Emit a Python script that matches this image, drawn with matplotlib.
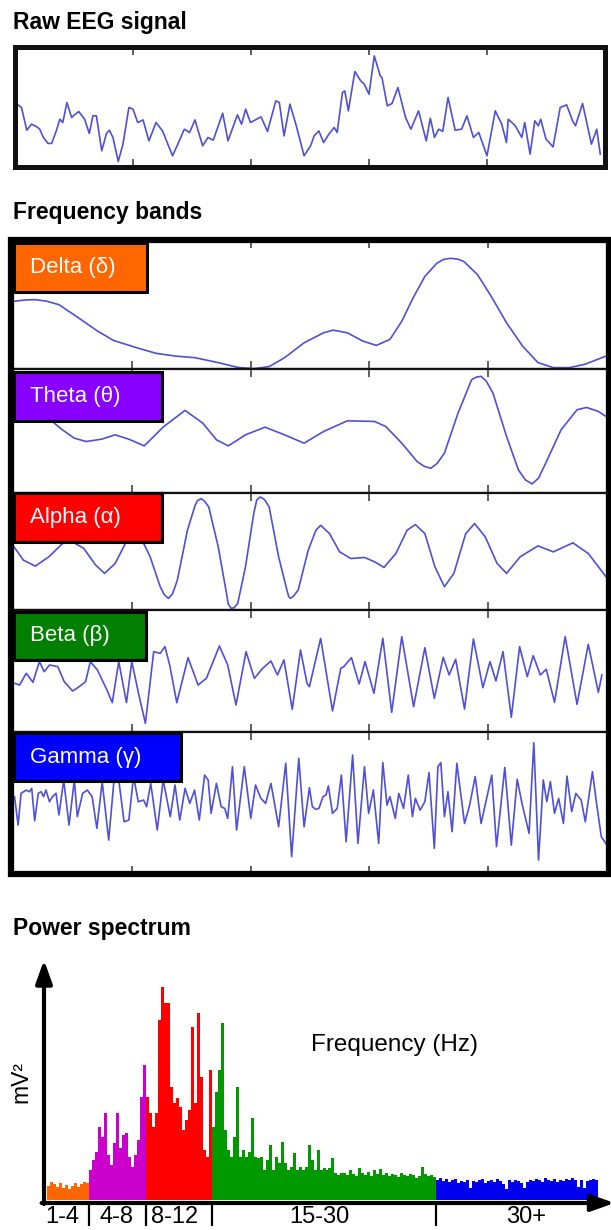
import matplotlib
matplotlib.use('Agg')
import matplotlib.pyplot as plt
from matplotlib.patches import Rectangle
import numpy as np

plt.rcParams['font.family'] = ['Liberation Sans', 'DejaVu Sans']

W, H = 611, 1230
LINE = '#4f4fd9'

# ---- raw EEG (time 0-100, amplitude 0-100) ----
raw_t = [0, 1.1, 2, 2.8, 3.7, 4.2, 4.8, 5.6, 6.2, 7, 7.6, 8.1, 8.8, 9.6, 10.1, 10.8, 11.8, 12.6,
         13.2, 13.8, 14.7, 15.5, 16, 16.6, 17.5, 18.3, 19.3, 20, 20.8, 21.7, 22.7, 23.4, 23.9, 25,
         26.7, 27.6, 28.7, 29.6, 30.5, 31.8, 32.7, 33.6, 35.2, 36.1, 37.7, 38.4, 39.1, 39.9, 41.7,
         42.8, 44.2, 44.8, 45.6, 46.6, 47.6, 49, 50.1, 50.7, 51.5, 52.3, 53.2, 54.1, 54.6, 55.5,
         55.9, 56.5, 57.6, 58.6, 59.2, 60, 60.9, 61.9, 62.2, 63.1, 63.9, 64.9, 66.2, 67.1, 68.4,
         69.7, 70.4, 71.1, 71.8, 72.5, 73.4, 74.6, 75.7, 76.6, 77.7, 78.6, 80, 81.4, 82.5, 83.3,
         83.6, 84.8, 85.9, 86.4, 87.3, 88.1, 88.7, 89.1, 90, 91.2, 92.4, 93.5, 94.5, 95, 96.2,
         97.7, 98.6, 99.2]
raw_v = [53, 48.5, 28.5, 33.8, 31.5, 29.4, 22.1, 16.8, 16.8, 27.9, 38.2, 35.3, 52.9, 39.7, 42.1,
         45, 38.2, 25.6, 41.2, 41.2, 10.3, 25.6, 28.5, 22.1, 0.9, 16.2, 48.5, 47.1, 35.3, 37.6,
         19.1, 28.5, 35.3, 27.9, 5.9, 16.2, 29.4, 26.5, 37.6, 14.7, 22.1, 19.7, 43.5, 19.1, 42.1,
         33.8, 47.1, 35.3, 40.3, 27.4, 54.4, 52.9, 23.5, 51.5, 33.8, 5.9, 14.7, 23.5, 27.9, 17.6,
         25, 30.9, 26.5, 61.8, 63.2, 45.6, 80.3, 72.1, 69.1, 60.3, 94.1, 76.5, 75, 50, 52.1, 66.2,
         39.7, 29.4, 45.6, 19.1, 39.1, 22.1, 29.4, 27.4, 57.4, 28.5, 29.4, 41.2, 22.1, 26.5, 5.9,
         45.6, 33.8, 17.6, 38.2, 32.4, 22.1, 35.3, 7.4, 36.8, 32.4, 38.2, 20.6, 13.8, 48.5, 50.9,
         36.8, 32.4, 52.1, 16.2, 29.4, 7.4]

# ---- frequency bands ----
delta_t = [0, 2, 3.6, 5.5, 7.6, 10.9, 14.1, 16.8, 20.7, 24, 27.3, 30.6, 34.5, 37.8, 40.5, 43.1,
           45.7, 49, 52.3, 53.9, 56.3, 58.9, 61.2, 63.5, 65.5, 67.4, 69.4, 71.4, 72.5, 73.7, 75,
           76, 78.3, 80.6, 83.2, 85.9, 88.5, 91.1, 93.8, 96.4, 100]
delta_v = [53.7, 54.8, 55, 53.8, 51, 40.5, 30, 22.5, 16.7, 12.2, 10, 8.7, 4.8, 1, 0, 1.6, 8.7,
           20.6, 28.6, 30.7, 28.6, 22, 18.5, 23.3, 37.8, 56.3, 73.5, 84, 87, 88, 87.3, 85.4, 74.9,
           57.7, 36.5, 18, 4.8, 0.8, 0.8, 3.4, 10]

theta_t = [0, 6.25, 8.2, 10.2, 12.2, 14.8, 17.1, 19.4, 22, 25.3, 28.9, 31.9, 34.2, 36.2, 39.1,
           42.4, 45.7, 49, 52.3, 56.3, 60.9, 62.8, 65.5, 68.1, 69.3, 70.4, 71.5, 72.7, 75, 77.3,
           78.1, 78.9, 79.8, 80.9, 83.2, 85.2, 86.4, 87.5, 88.6, 89.8, 92.4, 95.1, 96.7, 98.7, 100]
theta_v = [60.4, 58.5, 50.9, 44.2, 41.5, 43.4, 46.9, 43.4, 38, 53.6, 66.6, 56.3, 42.9, 38, 46.9,
           53.1, 46.9, 40.2, 49.6, 58.2, 57.7, 53.6, 40.2, 25.3, 21.5, 19.9, 24, 32.1, 64.4, 91.4,
           93.5, 94.1, 90, 80.6, 45.6, 18.6, 10.5, 7.3, 12, 24, 50.9, 67.1, 69, 65.8, 61.7]

alpha_t = [0, 1.6, 3.6, 5.9, 8.2, 9.9, 11.8, 13.8, 15.3, 17.1, 18.8, 20.7, 23, 24.7, 25.4, 26.1,
           26.8, 27.6, 29.3, 30.6, 31, 31.6, 32.2, 32.9, 34.5, 35.9, 36.2, 36.7, 37.2, 37.8, 39.1,
           40.5, 41, 41.6, 42.3, 43.1, 44.7, 46.1, 46.4, 46.7, 47.2, 48, 49.7, 51, 51.8, 53.3, 55,
           56.9, 59.2, 60.9, 62.5, 64.5, 66.4, 67.8, 69.4, 71.1, 72.7, 74.3, 76.3, 77.8, 79.6,
           81.6, 83.2, 85.5, 88.5, 91.1, 94.4, 97, 100]
alpha_v = [54, 42.6, 37.5, 45.5, 56.8, 58.2, 52.6, 38.4, 31.3, 39.8, 56.8, 69.6, 45.5, 19.9, 13,
           9.9, 14, 25.6, 68.2, 89.5, 93.5, 95.2, 93, 88.1, 54, 14.2, 5, 1.4, 2, 5.7, 36.9, 82.4,
           94, 96.6, 94.5, 88.1, 45.5, 17, 11.5, 9.9, 11.8, 17, 51.1, 68.2, 72.4, 65.3, 49.7, 44,
           44.9, 41.2, 36.4, 48.3, 68.2, 73, 65.3, 36.9, 19.9, 31.3, 65.3, 73.9, 62.5, 39.8, 31.3,
           45.5, 54.8, 49.7, 57.4, 48.3, 28.4]

beta_t = [0.1, 0.95, 2.07, 3.2, 4.3, 5.1, 6, 7.4, 8.5, 9.9, 11, 12.1, 12.9, 14.1, 15.7, 16.6,
          17.7, 19, 19.9, 21.1, 22.2, 23.6, 24.7, 25.5, 26.3, 27.5, 29.4, 31.1, 32.5, 34.7, 36.1,
          37.5, 39.2, 40.6, 42, 43.4, 44.5, 45.6, 47, 48.4, 49.5, 49.9, 51.8, 53.8, 55.2, 55.7,
          57, 58.3, 59.3, 60.8, 62.3, 63.8, 65.5, 67.5, 69.4, 71, 72.5, 73.5, 74.6, 76.1, 77.6,
          79.2, 80.4, 81.4, 82.6, 84, 85.4, 86.7, 87.7, 88.9, 89.9, 91.3, 93.1, 95.1, 97, 98.7,
          99.3]
beta_v = [39.7, 38.3, 48.1, 40.6, 57.8, 49.4, 55, 53.6, 41.1, 33.3, 36.9, 41.1, 57.8, 50.8, 34.2,
          23.6, 57.8, 23.6, 57.8, 30, 6.4, 66.1, 64.7, 70.3, 55, 23.6, 61.1, 38.3, 43.9, 70.8,
          55, 21.7, 66.1, 43.9, 52.2, 58.3, 46.7, 59.2, 18.1, 67.5, 39.7, 36.9, 77.2, 16.7, 52.2,
          53.6, 61.1, 39.2, 57.8, 31.4, 77.2, 15.6, 78.6, 20.3, 69.4, 27.2, 61.4, 46.7, 59.7,
          18.3, 76.7, 36.1, 57.8, 41.7, 66.1, 11.4, 70.3, 45.3, 62.8, 46.7, 51.4, 23.9, 78.6,
          22.2, 72.2, 32.2, 46.7]

gamma_t = [0.1, 0.7, 1.2, 2.1, 2.6, 3, 3.5, 4.1, 4.6, 5, 5.4, 6, 6.5, 7.1, 7.6, 8.4, 9.3, 10.2,
           10.7, 11.6, 12.4, 13.2, 14, 14.9, 16, 16.9, 17.7, 18.6, 19.4, 20.2, 21, 21.9, 22.4,
           23.1, 24.2, 25.2, 26.4, 27.2, 28, 28.9, 29.7, 30.5, 31.3, 32.2, 32.8, 33.3, 34.2, 35,
           35.6, 36.1, 36.9, 37.6, 38.9, 40, 40.8, 41.7, 42.5, 43.4, 44.7, 45.9, 46.9, 48.1, 49,
           49.9, 50.4, 51, 51.5, 52.2, 52.7, 53.1, 53.8, 54.6, 55.3, 56.1, 57.2, 58.1, 59.2, 59.9,
           60.7, 61.6, 62.3, 63, 63.5, 64.4, 65, 65.8, 66.6, 67.3, 67.8, 68.6, 69.4, 70.1, 71,
           71.6, 72.1, 72.7, 73.3, 74, 74.8, 76.1, 76.9, 77.9, 78.9, 80.7, 81.5, 82.9, 84, 85,
           85.8, 87, 87.8, 88.6, 89.4, 90, 90.6, 91.3, 92, 92.8, 93.4, 94.2, 94.9, 95.8, 96.5,
           97.7, 98.4, 99.2, 100]
gamma_v = [53.6, 33.3, 56, 58.3, 57.1, 59.5, 36.4, 56, 57.1, 53.6, 58.3, 50, 53.6, 56, 40.5,
           65.5, 33.3, 65.5, 39.3, 56, 58.3, 53.6, 31, 64.3, 22.6, 65.5, 65.5, 35.7, 36.9, 67.9,
           50, 51.2, 46.4, 63.1, 29.8, 65.5, 39.3, 61.9, 36.9, 59.5, 48.8, 58.3, 36.9, 69, 65.5,
           41.7, 63.1, 46.4, 45.2, 38.1, 75, 29.8, 75, 38.1, 61.9, 52.4, 48.8, 63.1, 32.1, 77.4,
           10.7, 81, 32.1, 60, 46.4, 44.5, 45.2, 53.6, 54.8, 61.2, 41.7, 45.2, 69, 21.4, 83.3,
           20.2, 75, 41.7, 58.3, 20.2, 77.9, 47.6, 53.6, 38.1, 55.9, 45.2, 69, 39.3, 52.4, 44,
           50, 70.7, 16.7, 75, 77.9, 39.3, 57.1, 28.6, 77.4, 34.5, 46.4, 67.9, 34.5, 69, 17.9,
           74.5, 19, 66, 48.8, 27.4, 92.1, 8.3, 65.5, 50, 64.3, 41.7, 52.4, 34.5, 68.3, 42.9,
           55.9, 51.2, 35.7, 71.4, 48.8, 25, 20]

bands = ['Delta (δ)', 'Theta (θ)', 'Alpha (α)', 'Beta (β)', 'Gamma (γ)']
band_colors = ['#ff6600', '#8800ff', '#ff0000', '#007f00', '#0000ff']

# ---- power spectrum (one value per frequency bin) ----
spec_orange = [14, 18, 16, 13, 17, 12, 15, 11, 14, 17, 13, 16, 18, 17]
spec_magenta = [30, 40, 48, 73, 63, 87, 45, 35, 57, 87, 52, 65, 67, 43, 33, 45, 60, 103, 135]
spec_red = [103, 87, 73, 87, 180, 213, 197, 197, 113, 97, 102, 93, 70, 80, 90, 173, 97, 187,
            123, 50, 43, 130]
spec_green = [73, 108, 130, 177, 70, 50, 43, 63, 113, 43, 50, 43, 48, 82, 43, 42, 43, 30, 40,
              55, 30, 43, 37, 58, 37, 30, 33, 47, 30, 33, 30, 33, 55, 40, 30, 50, 30, 32, 30,
              32, 42, 27, 25, 27, 27, 25, 30, 26, 24, 32, 27, 25, 28, 24, 30, 26, 31, 25, 27,
              24, 26, 25, 23, 27, 25, 24, 26, 25, 22, 24, 33, 26, 24, 25, 23]
spec_blue = [20, 22, 19, 21, 18, 20, 21, 17, 19, 18, 20, 12, 19, 18, 20, 21, 17, 19, 20, 18, 21,
             19, 16, 11, 20, 18, 20, 19, 17, 12, 18, 20, 19, 21, 20, 18, 22, 20, 19, 21, 18, 20,
             19, 21, 20, 22, 20, 13, 20, 12, 19, 20, 21, 20]
spec_colors = ['#ff6600', '#cc00cc', '#ff0000', '#009900', '#0000ee']
spec_labels = ['1-4', '4-8', '8-12', '15-30', '30+']


def rect(x0, y0, x1, y1):
    return [x0 / W, 1 - y1 / H, (x1 - x0) / W, (y1 - y0) / H]


def style_ax(ax, lw):
    ax.set_xticks([20, 40, 60, 80])
    ax.set_yticks([])
    ax.tick_params(axis='x', which='both', direction='in', top=True, bottom=True,
                   labelbottom=False, length=6, width=1.1, color='#333333')
    for s in ax.spines.values():
        s.set_linewidth(lw)
        s.set_color('#111111')


fig = plt.figure(figsize=(W / 100, H / 100), dpi=100)

# titles
for txt, y in [('Raw EEG signal', 23), ('Frequency bands', 213), ('Power spectrum', 929)]:
    fig.text(13 / W, 1 - y / H, txt, fontsize=16.5, fontweight='bold', ha='left', va='center')

# raw signal
ax = fig.add_axes(rect(15, 47, 605, 167))
ax.plot(raw_t, raw_v, color=LINE, lw=1.2, solid_joinstyle='round')
ax.set_xlim(0, 100)
ax.set_ylim(-4, 102)
style_ax(ax, 3.6)

# band panels
edges = [240, 369, 493, 610, 731.5, 874]
ylims = [(-0.3, 102.6), (0, 100), (0, 100), (-0.4, 100.8), (-1.6, 100.1)]
series = [(delta_t, delta_v), (theta_t, theta_v), (alpha_t, alpha_v),
          (beta_t, beta_v), (gamma_t, gamma_v)]
for i, (t, v) in enumerate(series):
    ax = fig.add_axes(rect(11, edges[i], 609, edges[i + 1]))
    ax.plot(t, v, color=LINE, lw=1.2, solid_joinstyle='round')
    ax.set_xlim(-0.5, 100.5)
    ax.set_ylim(*ylims[i])
    style_ax(ax, 1.6)

# outer frame
fig.add_artist(Rectangle((11 / W, 1 - 874 / H), 598 / W, 634 / H, transform=fig.transFigure,
                         fill=False, ec='black', lw=4.5, zorder=5))

# band labels
label_boxes = [(243, 292, 147), (372, 421, 162), (493, 542, 162), (612, 660, 146), (733, 781, 181)]
for name, col, (y0, y1, x1) in zip(bands, band_colors, label_boxes):
    fig.add_artist(Rectangle((14 / W, 1 - y1 / H), (x1 - 14) / W, (y1 - y0) / H,
                             transform=fig.transFigure, fc=col, ec='black', lw=2.2, zorder=6))
    fig.text(30 / W, 1 - (y0 + y1) / 2 / H, name, color='white', fontsize=16,
             ha='left', va='center', zorder=7)

# power spectrum
ax = fig.add_axes(rect(44, 962, 610, 1203))
parts = [spec_orange, spec_magenta, spec_red, spec_green, spec_blue]
start = 0
bounds = []
for vals, col in zip(parts, spec_colors):
    x = np.arange(start, start + len(vals))
    ax.bar(x, vals, width=1.0, align='edge', color=col, edgecolor='none')
    start += len(vals)
    bounds.append(start)
ax.set_xlim(-1, 188)
ax.set_ylim(-3, 238)
ax.axis('off')
ax.annotate('', xy=(189.5, -3), xytext=(-1.8, -3), annotation_clip=False,
            arrowprops=dict(arrowstyle='-|>,head_length=0.7,head_width=0.25', lw=3,
                            color='black', shrinkA=0, shrinkB=0, mutation_scale=20))
ax.annotate('', xy=(-1, 240), xytext=(-1, -4), annotation_clip=False,
            arrowprops=dict(arrowstyle='-|>,head_length=0.7,head_width=0.25', lw=3,
                            color='black', shrinkA=0, shrinkB=0, mutation_scale=20))
ax.vlines(bounds[:-1], -26, -3, color='black', lw=1.6, clip_on=False)
label_x = [5, 23.3, 42.7, 91, 160]
for lab, lx in zip(spec_labels, label_x):
    ax.text(lx, -17, lab, fontsize=17, ha='center', va='center', clip_on=False)
ax.text(116, 155, 'Frequency (Hz)', fontsize=17.5, ha='center', va='center')
ax.text(-8.7, 118, 'mV²', fontsize=16.5, rotation=90, ha='center', va='center', clip_on=False)

fig.savefig('out.png', dpi=100, facecolor='white')
